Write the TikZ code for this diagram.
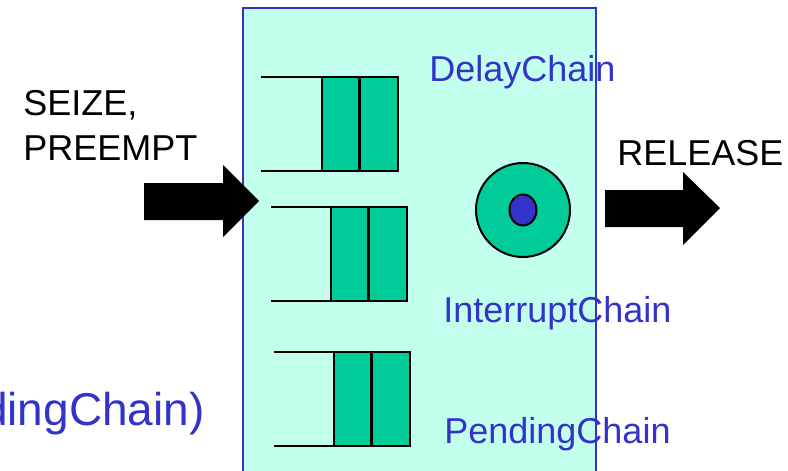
\documentclass[tikz,border=0pt]{standalone}
\usepackage{fontspec}
\setmainfont{Liberation Sans}
\usetikzlibrary{positioning, shapes.geometric}

\definecolor{boxfill}{RGB}{194,255,236}
\definecolor{qgreen}{RGB}{0,204,153}
\definecolor{chainblue}{RGB}{51,51,204}

\begin{document}
\begin{tikzpicture}[x=0.5pt, y=-0.5pt,
  qline/.style={line width=1pt},
  qbox/.style={draw, line width=1pt, fill=qgreen},
  chain/.style={inner sep=0pt, anchor=base west, text=chainblue, font=\fontsize{18}{22}\selectfont},
  cmd/.style={inner sep=0pt, anchor=base west, align=left, font=\fontsize{18}{22.5}\selectfont},
  blockarrow/.style={fill=black}]
\useasboundingbox (0,0) rectangle (788,471);
\clip (0,0) rectangle (788,471);
% facility box
\draw[chainblue, line width=1pt, fill=boxfill] (243,8) rectangle (596,480);
% the three chains
\foreach \ql/\qx/\qy in {261/322/77, 271/331/207, 274/334/352}{
  \draw[qline] (\ql,\qy) -- (\qx+55,\qy) (\ql,\qy+94) -- (\qx+55,\qy+94);
  \draw[qbox] (\qx,\qy) rectangle (\qx+37,\qy+94);
  \draw[qbox] (\qx+38,\qy) rectangle (\qx+76,\qy+94);
}
% server
\node (srv) [circle, draw, line width=1pt, fill=qgreen, minimum size=47pt, inner sep=0pt] at (523,210) {};
\node (tok) [ellipse, draw, line width=1pt, fill=chainblue, minimum width=13.5pt, minimum height=15.5pt, inner sep=0pt] at (srv.center) {};
% block arrows
\fill[blockarrow] (144,183) -- (223,183) -- (223,165) -- (259,201) -- (223,237) -- (223,220) -- (144,220) -- cycle;
\fill[blockarrow] (605,190) -- (683,190) -- (683,172) -- (720,208) -- (683,245) -- (683,227) -- (605,227) -- cycle;
% labels
\node (delay) [chain] at (429,82) {DelayChain};
\node (intr) [chain] at (443,322) {InterruptChain};
\node (pend) [chain] at (444,443) {PendingChain};
\node (pendlist) [chain, anchor=base east, font=\fontsize{23}{28}\selectfont] at (205,425) {(PendingChain)};
\node (seize) [cmd] at (23,160) {SEIZE,\\PREEMPT};
\node (release) [cmd] at (617,165) {RELEASE};
\end{tikzpicture}
\end{document}
